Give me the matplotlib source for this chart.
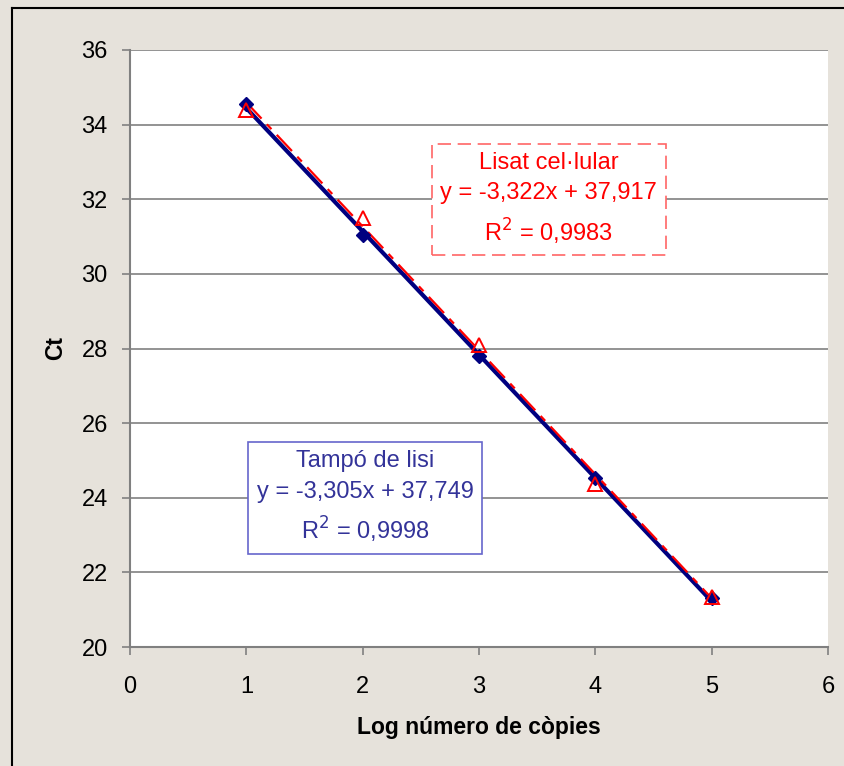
import matplotlib.pyplot as plt
import numpy as np
from matplotlib.lines import Line2D

plt.rcParams['font.family'] = ['Liberation Sans', 'DejaVu Sans']

# data: log copy number vs Ct
log_copies = [1, 2, 3, 4, 5]
ct_tampo = [34.55, 31.04, 27.80, 24.53, 21.31]
ct_lisat = [34.39, 31.50, 28.10, 24.37, 21.33]

# trendline parameters as printed on the chart
fit_tampo = (-3.305, 37.749)
fit_lisat = (-3.322, 37.917)

xticks = [0, 1, 2, 3, 4, 5, 6]
yticks = [20, 22, 24, 26, 28, 30, 32, 34, 36]

bg = '#e6e2db'
navy = '#000080'
red = '#ff0000'

fig = plt.figure(figsize=(8.45, 7.66), dpi=100, facecolor=bg)
ax = fig.add_axes([130/845, 119/766, 698/845, 597/766])
ax.set_facecolor('white')

# frame lines on figure (top and left only)
fig.add_artist(Line2D([12/845, 12/845], [0, 1 - 8/766], transform=fig.transFigure, color='black', lw=1.5))
fig.add_artist(Line2D([12/845, 1], [1 - 8/766, 1 - 8/766], transform=fig.transFigure, color='black', lw=1.5))

ax.set_xlim(0, 6)
ax.set_ylim(20, 36)
ax.set_xticks(xticks)
ax.set_yticks(yticks)
for y in yticks[1:]:
    ax.axhline(y, color='#808080', lw=1.2, zorder=0)

for s in ['top', 'right']:
    ax.spines[s].set_visible(False)
for s in ['left', 'bottom']:
    ax.spines[s].set_color('#808080')
    ax.spines[s].set_linewidth(1.5)
ax.tick_params(axis='both', direction='out', length=6, width=1.2, color='#808080',
               labelsize=17)
ax.tick_params(axis='x', pad=15)
ax.tick_params(axis='y', pad=10)

x = np.array([log_copies[0], log_copies[-1]])
ax.plot(x, fit_tampo[0]*x + fit_tampo[1], color=navy, lw=3, zorder=3)
ax.plot(x, fit_lisat[0]*x + fit_lisat[1], color=red, lw=1.6, dashes=(10, 3.5, 3, 3.5), zorder=4)

ax.plot(log_copies, ct_tampo, 'D', color=navy, markersize=7, zorder=5)
ax.plot(log_copies, ct_lisat, '^', color=red, markerfacecolor='none', markersize=10,
        markeredgewidth=1.4, zorder=6)

ax.set_xlabel('Log número de còpies', fontsize=16.5, fontweight='bold', labelpad=13)
ax.set_ylabel('Ct', fontsize=16.5, fontweight='bold', labelpad=10)

ax.text(3.60, 32.0, 'Lisat cel·lular\ny = -3,322x + 37,917\nR$^2$ = 0,9983',
        ha='center', va='center', fontsize=17, color=red, linespacing=1.5,
        bbox=dict(boxstyle='square,pad=0.35', facecolor='white', edgecolor='#ff6666',
                  linestyle=(0, (8, 4)), lw=1.2), zorder=7)
ax.text(2.02, 24.0, 'Tampó de lisi\ny = -3,305x + 37,749\nR$^2$ = 0,9998',
        ha='center', va='center', fontsize=17, color='#333399', linespacing=1.5,
        bbox=dict(boxstyle='square,pad=0.35', facecolor='white', edgecolor='#6666cc',
                  lw=1.2), zorder=7)

fig.savefig('out.png', dpi=100, facecolor=bg)
